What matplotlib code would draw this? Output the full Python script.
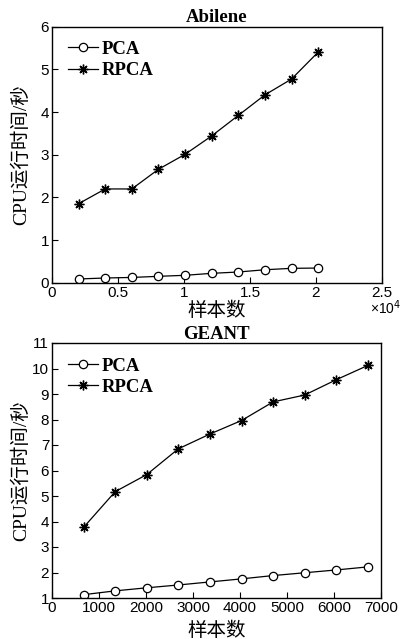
import matplotlib
matplotlib.use("Agg")
import matplotlib.pyplot as plt
from matplotlib.ticker import FuncFormatter

# Abilene data
abilene_x = [2016, 4032, 6048, 8064, 10080, 12096, 14112, 16128, 18144, 20160]
abilene_pca = [0.094, 0.117, 0.13, 0.156, 0.18, 0.226, 0.257, 0.31, 0.343, 0.35]
abilene_rpca = [1.855, 2.20, 2.20, 2.66, 3.01, 3.44, 3.92, 4.40, 4.77, 5.40]

# GEANT data
geant_x = [672, 1344, 2016, 2688, 3360, 4032, 4704, 5376, 6048, 6720]
geant_pca = [1.13, 1.28, 1.40, 1.51, 1.63, 1.75, 1.88, 1.99, 2.10, 2.22]
geant_rpca = [3.77, 5.17, 5.84, 6.85, 7.43, 7.96, 8.69, 8.96, 9.56, 10.12]

series_labels = ["PCA", "RPCA"]
xlabel = "样本数"
ylabel = "CPU运行时间/秒"
titles = ["Abilene", "GEANT"]

abilene_xticks = [0, 5000, 10000, 15000, 20000, 25000]
abilene_yticks = [0, 1, 2, 3, 4, 5, 6]
geant_xticks = [0, 1000, 2000, 3000, 4000, 5000, 6000, 7000]
geant_yticks = list(range(1, 12))

W, H = 402, 639
fig = plt.figure(figsize=(W / 100, H / 100), dpi=100)

serif = ["Liberation Serif", "Noto Sans CJK SC"]
tickfont = "Liberation Sans"
TICK_SIZE = 11


def make_ax(left, top, right, bottom):
    return fig.add_axes([left / W, 1 - bottom / H, (right - left) / W, (bottom - top) / H])


def style(ax):
    for s in ax.spines.values():
        s.set_linewidth(1.0)
        s.set_color("black")
    ax.tick_params(direction="in", length=4, width=0.8, labelsize=TICK_SIZE,
                   top=False, right=False, pad=2)
    for lab in ax.get_xticklabels() + ax.get_yticklabels():
        lab.set_fontfamily(tickfont)


def plot_series(ax, x, pca, rpca):
    ax.plot(x, pca, color="black", lw=0.9, marker="o", ms=6.0, mfc="white",
            mec="black", mew=0.9, label=series_labels[0])
    ax.plot(x, rpca, color="black", lw=0.9, marker=(8, 2, 0), ms=7, mec="black",
            mew=1.0, label=series_labels[1])
    ax.legend(loc="upper left", bbox_to_anchor=(0.01, 0.995), frameon=False,
              handlelength=1.6, handletextpad=0.2, labelspacing=0.22,
              borderaxespad=0.3,
              prop={"family": "Liberation Serif", "weight": "bold", "size": 13.5})


def place_labels(ax, top, bottom, xlabel_y):
    h = bottom - top
    ax.set_xlabel(xlabel, family=serif, size=14)
    ax.xaxis.set_label_coords(0.5, -(xlabel_y - bottom) / h)
    ax.xaxis.label.set_va("center")
    ax.set_ylabel(ylabel, family=serif, size=14)
    ax.yaxis.set_label_coords((21 - 52) / 330, 0.5)
    ax.yaxis.label.set_va("center")


# top axes
T1, B1 = 26.5, 283
ax1 = make_ax(52, T1, 382, B1)
plot_series(ax1, abilene_x, abilene_pca, abilene_rpca)
ax1.set_xlim(0, 25000)
ax1.set_ylim(0, 6)
ax1.set_xticks(abilene_xticks)
ax1.set_yticks(abilene_yticks)
ax1.xaxis.set_major_formatter(FuncFormatter(lambda v, p: f"{v / 1e4:g}"))
style(ax1)
ax1.set_title(titles[0], family="Liberation Serif", weight="bold", size=13.5, pad=2)
place_labels(ax1, T1, B1, 311)
fig.text(401 / W, 1 - 308 / H, r"×10$^4$", family=tickfont, size=10,
         ha="right", va="center")

# bottom axes
T2, B2 = 343, 598
ax2 = make_ax(52, T2, 381, B2)
plot_series(ax2, geant_x, geant_pca, geant_rpca)
ax2.set_xlim(0, 7000)
ax2.set_ylim(1, 11)
ax2.set_xticks(geant_xticks)
ax2.set_yticks(geant_yticks)
style(ax2)
ax2.set_title(titles[1], family="Liberation Serif", weight="bold", size=13.5, pad=2)
place_labels(ax2, T2, B2, 631)

fig.savefig("out.png", dpi=100)
